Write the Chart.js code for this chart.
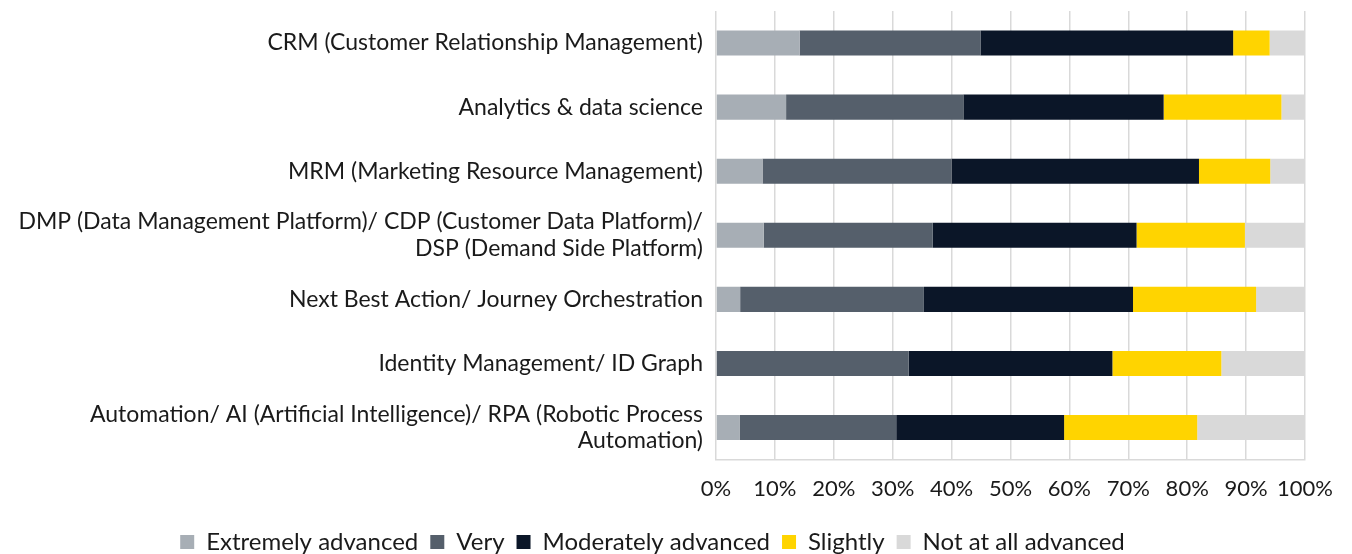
<!DOCTYPE html>
<html>
<head>
<meta charset="utf-8">
<script src="https://cdn.jsdelivr.net/npm/chart.js@4"></script>
<style>
  html, body { margin: 0; padding: 0; background: #fff; }
  #wrap { width: 1352px; height: 554px; }
</style>
</head>
<body>
<div id="wrap"><canvas id="c" width="1352" height="554"></canvas></div>
<script>
// Categories (top to bottom), multi-line where the original wraps
const categories = [
  "CRM (Customer Relationship Management)",
  "Analytics & data science",
  "MRM (Marketing Resource Management)",
  ["DMP (Data Management Platform)/ CDP (Customer Data Platform)/", "DSP (Demand Side Platform)"],
  "Next Best Action/ Journey Orchestration",
  "Identity Management/ ID Graph",
  ["Automation/ AI (Artificial Intelligence)/ RPA (Robotic Process", "Automation)"],
];

// Share of respondents (%)
const extremelyAdvanced   = [14.2, 11.9,  7.9,  8.1,  4.1,  0.0,  4.0];
const very                = [30.7, 30.1, 32.1, 28.7, 31.2, 32.7, 26.6];
const moderatelyAdvanced  = [42.9, 34.0, 42.0, 34.6, 35.5, 34.6, 28.5];
const slightly            = [ 6.2, 20.0, 12.1, 18.4, 20.9, 18.5, 22.6];
const notAtAllAdvanced    = [ 6.0,  4.0,  5.9, 10.2,  8.3, 14.2, 18.3];

const xTicks = [0, 10, 20, 30, 40, 50, 60, 70, 80, 90, 100];

const FONT = "Lato";
const TEXT = "#1a1a1a";
const GRID = "#d9d9d9";

function ds(label, data, color) {
  return {
    label,
    data,
    backgroundColor: color,
    borderWidth: 0,
    categoryPercentage: 0.8,
    barPercentage: 0.49,
  };
}

// legend sits a little lower in the original, trim its reserved height
const legendTrim = {
  id: "legendTrim",
  afterInit(chart) {
    const fit0 = chart.legend.fit;
    chart.legend.fit = function () {
      fit0.call(this);
      this.height -= 10;
    };
  },
};

new Chart(document.getElementById("c"), {
  type: "bar",
  data: {
    labels: categories,
    datasets: [
      ds("Extremely advanced", extremelyAdvanced, "#a7aeb5"),
      ds("Very", very, "#555f6b"),
      ds("Moderately advanced", moderatelyAdvanced, "#0b1628"),
      ds("Slightly", slightly, "#ffd400"),
      ds("Not at all advanced", notAtAllAdvanced, "#d9d9d9"),
    ],
  },
  plugins: [legendTrim],
  options: {
    indexAxis: "y",
    responsive: false,
    animation: false,
    layout: { padding: { top: 11, right: 47, left: 0, bottom: 0 } },
    plugins: {
      tooltip: { enabled: false },
      legend: {
        position: "bottom",
        labels: {
          color: TEXT,
          font: { family: FONT, size: 24 },
          boxWidth: 14,
          boxHeight: 14,
          padding: 12,
        },
      },
    },
    scales: {
      x: {
        stacked: true,
        min: 0,
        max: 100,
        afterBuildTicks: (scale) => { scale.ticks = xTicks.map((v) => ({ value: v })); },
        afterFit: (scale) => { scale.paddingLeft = 0; scale.paddingRight = 0; },
        ticks: {
          color: TEXT,
          font: { family: FONT, size: 22 },
          padding: 16,
          autoSkip: false,
          maxRotation: 0,
          minRotation: 0,
          callback: (v) => v + "%",
        },
        grid: { color: GRID, lineWidth: 1.5, drawTicks: false },
        border: { display: true, color: GRID, width: 1.5 },
      },
      y: {
        stacked: true,
        afterFit: (scale) => {
          scale.width = 716;
          scale.paddingTop = 0;
          scale.paddingBottom = 0;
        },
        ticks: {
          color: TEXT,
          font: { family: FONT, size: 23, lineHeight: 1.15 },
          padding: 13,
          autoSkip: false,
        },
        grid: { display: false, drawTicks: false },
        border: { display: false },
      },
    },
  },
});
</script>
</body>
</html>
